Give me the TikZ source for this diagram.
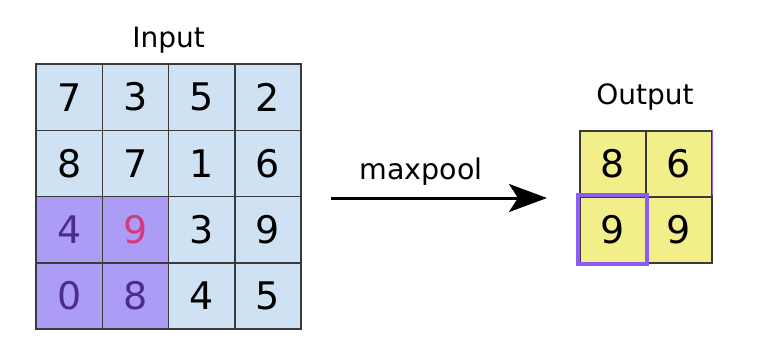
\documentclass[tikz,border=0pt]{standalone}
\usepackage{fontspec}
\setmainfont{DejaVu Sans}
\usetikzlibrary{arrows.meta}
\definecolor{cellblue}{HTML}{CFE2F3}
\definecolor{cellpurple}{HTML}{AC9CF6}
\definecolor{cellyellow}{HTML}{F2EF8A}
\definecolor{darkpurple}{HTML}{4A2D8C}
\definecolor{pinkdigit}{HTML}{D63A7D}
\definecolor{hlpurple}{HTML}{8B5CF6}
\definecolor{gridline}{HTML}{3A3A3A}
\tikzset{
  cell/.style={draw=gridline, line width=1.5pt, minimum size=66.3pt, inner sep=0pt,
    font=\fontsize{38}{40}\selectfont, anchor=center},
  bluecell/.style={cell, fill=cellblue},
  purplecell/.style={cell, fill=cellpurple, text=darkpurple},
  ocell/.style={cell, minimum size=66pt, fill=cellyellow},
  label/.style={font=\fontsize{28}{30}\selectfont, inner sep=0pt},
}
\begin{document}
\begin{tikzpicture}[x=1pt,y=-1pt]
\useasboundingbox (0,0) rectangle (761,349);
\fill[white] (0,0) rectangle (761,349);
% input grid
\node[bluecell] (a11) at (69.15,97.15) {7};
\node[bluecell] (a12) at (135.45,97.15) {3};
\node[bluecell] (a13) at (201.75,97.15) {5};
\node[bluecell] (a14) at (268.05,97.15) {2};
\node[bluecell] (a21) at (69.15,163.45) {8};
\node[bluecell] (a22) at (135.45,163.45) {7};
\node[bluecell] (a23) at (201.75,163.45) {1};
\node[bluecell] (a24) at (268.05,163.45) {6};
\node[purplecell] (a31) at (69.15,229.75) {4};
\node[purplecell, text=pinkdigit] (a32) at (135.45,229.75) {9};
\node[bluecell] (a33) at (201.75,229.75) {3};
\node[bluecell] (a34) at (268.05,229.75) {9};
\node[purplecell] (a41) at (69.15,296.05) {0};
\node[purplecell] (a42) at (135.45,296.05) {8};
\node[bluecell] (a43) at (201.75,296.05) {4};
\node[bluecell] (a44) at (268.05,296.05) {5};
\node[label] (inlbl) at (168.6,40) {Input};
% output grid
\node[ocell] (b11) at (613,164) {8};
\node[ocell] (b12) at (679,164) {6};
\node[ocell] (b21) at (613,230) {9};
\node[ocell] (b22) at (679,230) {9};
\node[label] (outlbl) at (645,97) {Output};
\draw[hlpurple, line width=1.2pt] (b12.north east) -- ([yshift=3pt]b12.south east);
\draw[hlpurple, line width=4.2pt] ([shift={(-1,-1)}]b21.north west) rectangle ([shift={(0,0.5)}]b21.south east);
% arrow
\coordinate (arrS) at (331,198);
\coordinate (arrE) at (547,198);
\draw[line width=3pt, -{Stealth[length=38pt,width=28pt,inset=9pt]}] (arrS) -- (arrE);
\node[label, font=\fontsize{28.5}{30}\selectfont] (mp) at (421,172) {maxpool};
\end{tikzpicture}
\end{document}
